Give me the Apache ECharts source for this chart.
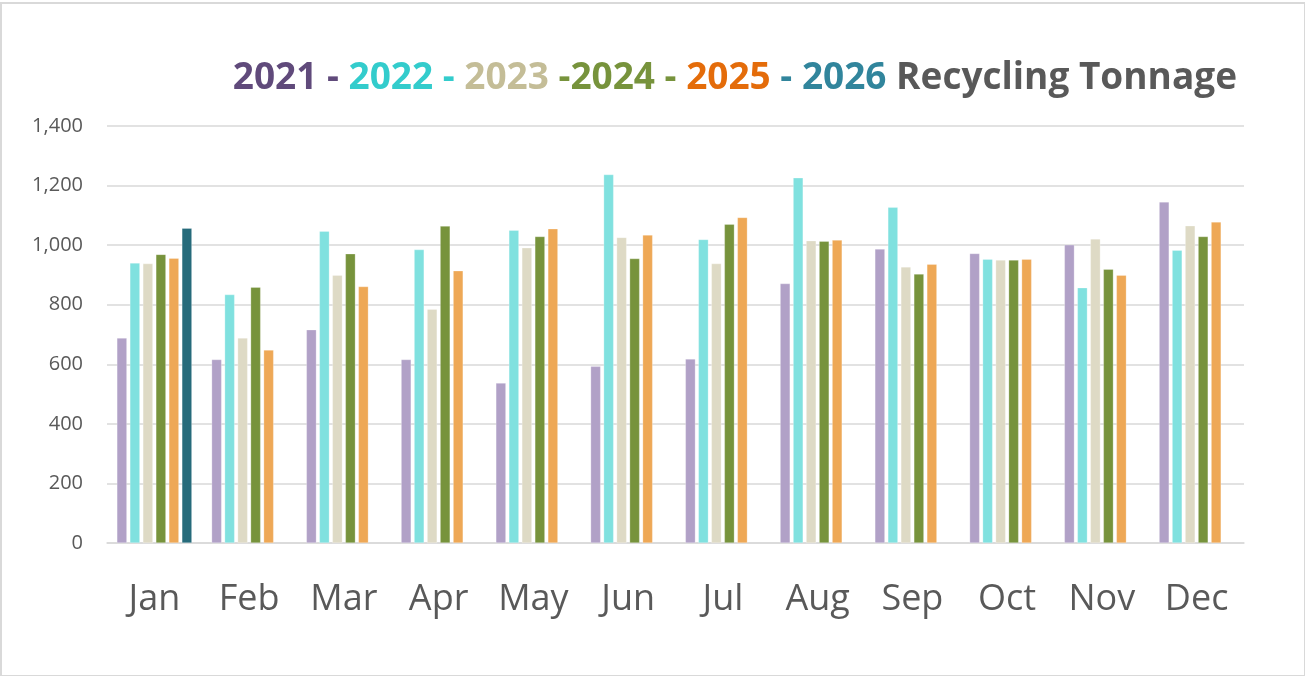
<!DOCTYPE html>
<html>
<head>
<meta charset="utf-8">
<script src="https://cdn.jsdelivr.net/npm/echarts@6/dist/echarts.min.js"></script>
<style>
    html, body { margin: 0; padding: 0; background: #fff; }
    #chart {
        position: absolute; left: 0; top: 2px;
        width: 1305px; height: 674px;
        border: 2px solid #d9d9d9; border-right-width: 1px; border-bottom-width: 1px;
        box-sizing: border-box;
    }
</style>
</head>
<body>
<div id="chart"></div>
<script>
// month categories
var months = ['Jan', 'Feb', 'Mar', 'Apr', 'May', 'Jun', 'Jul', 'Aug', 'Sep', 'Oct', 'Nov', 'Dec'];
var years = ['2021', '2022', '2023', '2024', '2025', '2026'];

// tonnage per year
var y2021 = [688, 616, 716, 616, 537, 593, 618, 871, 987, 972, 1001, 1145];
var y2022 = [940, 834, 1047, 985, 1050, 1237, 1019, 1226, 1127, 953, 857, 983];
var y2023 = [938, 688, 899, 785, 991, 1026, 938, 1015, 927, 950, 1021, 1065];
var y2024 = [969, 859, 971, 1064, 1029, 955, 1070, 1013, 903, 950, 919, 1029];
var y2025 = [956, 648, 861, 914, 1055, 1034, 1093, 1017, 936, 953, 899, 1078];
var y2026 = [1057, null, null, null, null, null, null, null, null, null, null, null];

var barColors = ['#b1a1c7', '#80e1df', '#dedac5', '#77933c', '#eea856', '#266b7b'];
var titleColors = ['#604a7b', '#33cccc', '#c4bd97', '#77933c', '#e46c0a', '#31859c'];

var myChart = echarts.init(document.getElementById('chart'));

var allData = [y2021, y2022, y2023, y2024, y2025, y2026];
var series = [];
for (var i = 0; i < years.length; i++) {
    series.push({
        name: years[i],
        type: 'bar',
        data: allData[i],
        barWidth: 10,
        barGap: '30%',
        itemStyle: {
            color: barColors[i],
            borderColor: 'rgba(255,255,255,0.5)',
            borderWidth: 0.5
        }
    });
}

// one style per coloured piece of the title
var titleFont = {fontFamily: 'Open Sans', fontWeight: 'bold', fontSize: 37};
function piece(color) {
    return Object.assign({color: color}, titleFont);
}

var option = {
    animation: false,
    title: {
        right: 62,
        top: 51,
        text: '{a|2021 -} {b|2022 -} {c|2023} {d|-2024 -} {e|2025} {f|- 2026} {g|Recycling Tonnage}',
        textStyle: Object.assign({
            rich: {
                a: piece(titleColors[0]),
                b: piece(titleColors[1]),
                c: piece(titleColors[2]),
                d: piece(titleColors[3]),
                e: piece(titleColors[4]),
                f: piece(titleColors[5]),
                g: piece('#595959')
            }
        }, titleFont)
    },
    grid: {
        left: 105,
        right: 60,
        top: 122,
        bottom: 132
    },
    xAxis: {
        type: 'category',
        data: months,
        axisTick: {show: false},
        axisLine: {lineStyle: {color: '#d9d9d9', width: 1.5}},
        axisLabel: {
            color: '#595959',
            fontFamily: 'Open Sans',
            fontSize: 36,
            margin: 39
        }
    },
    yAxis: {
        type: 'value',
        min: 0,
        max: 1400,
        interval: 200,
        axisLine: {show: false},
        axisTick: {show: false},
        splitLine: {lineStyle: {color: '#d9d9d9', width: 1.5}},
        axisLabel: {
            color: '#595959',
            fontFamily: 'Open Sans',
            fontSize: 20,
            margin: 24,
            formatter: function (v) {
                return v.toLocaleString('en-US');
            }
        }
    },
    series: series
};
myChart.setOption(option);
</script>
</body>
</html>
